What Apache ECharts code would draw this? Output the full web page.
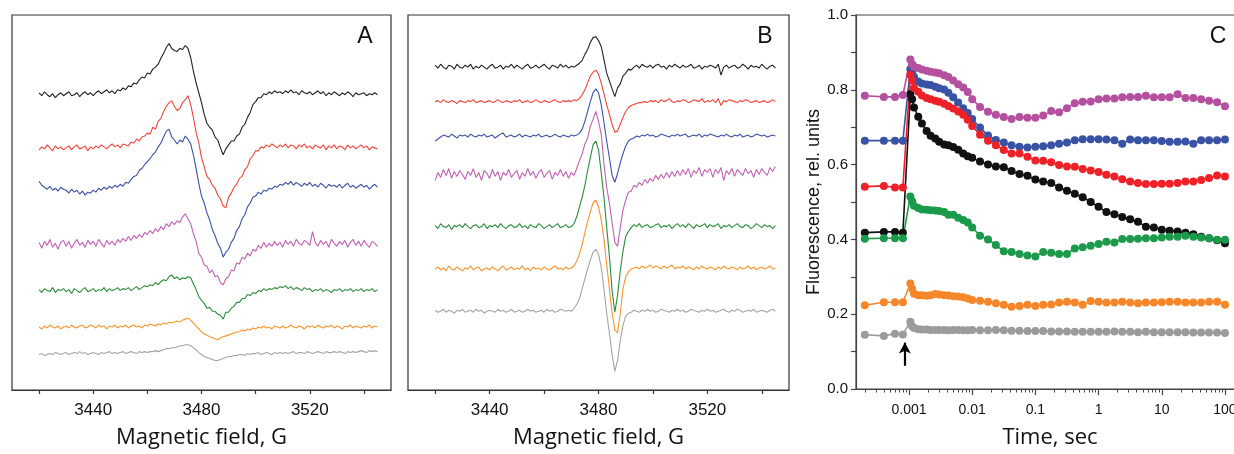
<!DOCTYPE html>
<html><head><meta charset="utf-8">
<script src="https://cdn.jsdelivr.net/npm/echarts@6/dist/echarts.min.js"></script>
<style>html,body{margin:0;padding:0;background:#fff;overflow:hidden;width:1234px;height:454px}#c{width:1234px;height:454px;overflow:hidden;position:relative}</style>
</head><body><div id="c"></div>
<script>
// ---------- Panels A and B: EPR spectra, 1 G steps from 3420 G ----------
const fieldStart = 3420; // G, first sample; 1 G per sample
const traceNames = ['black','red','blue','magenta','green','orange','gray'];
const abTicks = [3420,3440,3460,3480,3500,3520,3540];
const abLabels = [3440,3480,3520];
// vertical stacking baselines (a.u.)
const baseA = [300,246,206,148,101,64,37];
const baseB = [328,293,258,219,166,123,80];

const specA_black = [2,-1,3,0,-2,1,-3,0,2,-1, 1,3,-1,0,2,-2,1,3,0,2, -1,2,4,1,3,5,2,4,1,5, 4,7,5,9,8,12,11,15,18,17, 22,21,26,28,31,37,42,48,52,47, 45,44,47,46,50,47,38,24,12,2, -8,-20,-29,-33,-36,-43,-46,-54,-61,-55, -51,-47,-47,-42,-40,-33,-30,-23,-18,-10, -7,-3,-3,1,0,3,1,4,2,3, 1,4,2,5,2,3,0,4,2,1, 3,0,2,4,1,3,-1,2,0,3, 1,-1,2,0,3,1,-2,2,0,1, 2,-1,1,0,2,0];
const specA_red = [-2,1,-1,3,0,-3,2,-1,1,-2, 0,2,-2,1,3,-1,0,2,-3,1, -1,2,0,3,1,-1,2,4,1,3, 0,4,3,2,6,5,9,7,11,12, 15,14,21,19,27,30,37,42,46,48, 42,38,40,46,49,53,44,31,16,5, -10,-19,-29,-32,-38,-41,-48,-52,-59,-61, -50,-46,-40,-37,-31,-29,-22,-19,-11,-8, -3,-3,1,0,3,1,4,2,0,3, 1,4,0,3,2,-1,3,1,4,0, 2,-1,3,1,0,3,-2,2,0,3, -1,2,1,-2,3,0,2,-1,1,3, 0,2,-2,1,0,-1];
const specA_blue = [6,2,0,-2,1,-3,-1,-4,0,-2, -3,-6,-2,-5,-3,-7,-4,-8,-5,-6, -3,-5,-1,-3,0,-2,1,-1,2,0, 3,1,5,4,8,11,12,17,19,23, 26,29,33,36,41,45,51,57,59,51, 48,44,48,46,52,49,44,33,19,4, -9,-16,-26,-33,-43,-49,-57,-62,-71,-66, -63,-56,-52,-44,-40,-32,-28,-20,-16,-10, -9,-5,-7,-3,-4,-1,-2,1,0,3, 2,5,3,6,2,5,3,1,4,2, 5,1,3,0,4,2,-1,3,1,2, 0,3,-1,2,4,0,2,-1,1,3, 0,2,-2,1,3,0];
const specA_magenta = [2,-4,3,-1,5,-3,1,-5,2,4, -2,3,-4,1,5,-1,2,-3,4,0, 3,-2,5,1,-3,4,0,3,-1,5, 2,6,3,8,4,9,6,10,7,12, 10,14,11,16,13,18,15,21,18,23, 20,24,22,28,31,26,21,11,3,-9, -13,-21,-22,-29,-26,-33,-32,-39,-41,-35, -33,-26,-27,-19,-20,-13,-15,-9,-12,-5, -7,-1,-4,2,-3,1,-2,3,-1,2, -3,4,0,3,-2,5,1,-1,4,2, -1,13,2,-2,4,0,3,-3,5,1, -2,3,0,4,-3,2,5,-1,3,-2, 4,0,-3,3,1,-2];
const specA_green = [1,-2,2,0,-1,3,-2,1,0,2, -1,1,-3,2,0,-2,1,3,-1,0, 2,-1,1,0,3,-1,2,0,1,3, 0,2,1,3,0,2,4,1,3,5, 4,6,5,8,6,9,11,10,14,16, 12,14,11,13,12,14,13,7,1,-6, -10,-13,-18,-17,-21,-21,-24,-25,-29,-22, -22,-18,-16,-12,-12,-8,-8,-4,-5,-2, -3,0,-1,2,0,2,1,3,2,4, 3,5,2,4,1,3,2,0,3,1, 2,-1,1,0,2,-1,1,0,-2,1, 0,2,-1,1,0,2,-1,1,0,2, -1,1,0,2,-1,1];
const specA_orange = [0,-2,1,-1,2,0,-1,1,-2,0, 1,-1,2,0,-1,1,2,-1,0,2, 1,-1,2,0,1,-2,1,0,2,-1, 1,0,2,-1,1,2,0,1,-1,2, 1,3,2,1,3,2,4,3,5,4, 5,6,5,7,8,9,7,4,1,-2, -5,-7,-8,-10,-11,-12,-13,-11,-10,-9, -8,-7,-6,-5,-5,-3,-4,-2,-3,-1, -2,0,-1,1,-1,0,-2,1,0,-1, 1,-1,0,2,0,-1,1,0,-2,1, 0,1,-1,2,0,-1,1,0,2,-1, 1,0,-2,1,0,2,-1,1,0,-1, 1,0,2,-1,1,0];
const specA_gray = [-1,0,-2,-1,0,-1,1,0,-1,0, 1,-1,0,1,0,2,0,1,-1,0, 1,0,-1,1,0,1,2,0,1,0, 1,2,0,1,2,1,0,2,1,2, 1,2,2,3,2,3,4,5,5,6, 6,7,8,8,9,9,8,6,4,1, -1,-3,-4,-5,-6,-7,-7,-6,-5,-4, -3,-3,-2,-2,-1,-1,-2,0,-1,0, 0,1,-1,0,1,0,-1,1,0,1, 0,1,0,1,2,0,1,1,0,2, 1,0,1,2,1,0,2,1,1,2, 1,2,1,0,2,1,2,1,2,3, 2,1,3,2,3,2];

const specB_black = [2,-1,3,0,-2,2,1,-2,3,0, -1,2,0,3,-2,1,-1,2,0,-2, 1,3,-1,0,2,-2,1,0,3,-1, 2,0,-2,1,3,-1,0,2,-1,1, 3,0,-2,2,1,-1,3,0,2,-1, 1,0,2,4,7,13,18,25,30,31, 27,21,8,-6,-14,-22,-30,-21,-17,-9, -6,-2,-3,0,2,-1,3,1,0,2, -1,2,3,0,1,-2,2,0,3,1, -1,2,0,1,3,-1,0,2,-2,1, 0,2,1,-1,3,-8,0,2,-1,1, 2,-1,0,3,1,-2,2,0,1,-1, 3,0,-2,1,2,-1];
const specB_red = [0,1,-1,2,0,-1,1,0,-2,1, 0,-1,1,0,2,-1,0,1,-1,0, 1,-1,0,2,0,-1,1,0,-1,1, 0,2,-1,0,1,-1,0,2,0,-1, 1,0,-1,1,2,0,-1,1,0,1, 0,2,1,3,7,12,19,26,30,32, 28,19,8,-3,-13,-23,-31,-30,-23,-16, -10,-6,-4,-3,-2,-1,-1,0,-1,1, 0,1,-1,2,0,1,3,0,-1,1, 0,2,1,-1,0,2,1,0,3,-1, 1,0,2,-1,3,-4,1,0,2,1, 0,-1,1,0,2,1,-1,0,1,-1, 0,1,-1,0,2,0];
const specB_blue = [-5,-3,-1,1,0,-1,2,0,-2,1, 0,1,-1,2,0,-1,1,0,2,-1, 0,1,-2,0,2,3,-1,0,1,-1, 0,2,-1,1,0,-1,1,0,2,-1, 0,1,-1,0,2,0,-1,1,0,-1, 1,0,1,3,7,15,25,35,44,48, 44,32,14,-5,-22,-40,-47,-38,-27,-18, -10,-5,-3,-2,0,-1,1,0,2,0, 1,-1,0,2,1,0,-1,1,0,2, 0,1,2,-1,0,1,0,2,-1,1, 0,2,1,0,-1,1,0,2,0,-1, 1,0,2,-1,0,1,-1,0,2,1, 0,1,-1,0,1,0];
const specB_magenta = [-6,2,-3,5,-1,6,-4,3,-2,4, 0,-5,3,-1,6,-3,2,-6,4,1, -4,5,-2,3,-6,2,-1,5,-3,1, 4,-5,2,-2,6,-1,3,-4,2,5, -3,1,4,-5,2,-1,5,-2,3,-4, 2,-1,6,14,21,31,37,49,56,64, 54,41,11,-13,-29,-49,-69,-73,-54,-36, -26,-18,-17,-11,-13,-8,-11,-5,-9,-4, -7,-1,-5,0,-4,2,-3,3,-2,4, -1,5,0,6,-3,4,1,7,-2,5, 2,6,-3,5,1,7,-6,4,0,6, -2,5,2,-1,6,1,4,-3,5,0, 6,2,-1,7,3,8];
const specB_green = [1,-2,3,0,-1,2,-3,1,0,2, -1,3,0,-2,1,2,-1,0,3,-2, 1,0,2,-1,3,0,-2,1,2,-1, 0,3,-1,1,-2,2,0,-1,3,1, -2,0,2,-1,1,3,-1,0,2,-1, 0,3,10,20,30,42,57,70,83,87, 78,55,30,0,-30,-65,-87,-70,-45,-25, -10,-5,-1,2,0,3,-1,1,2,-1, 0,2,3,-1,1,0,2,-2,1,3, 0,2,-1,3,1,-2,2,0,1,3, -1,2,0,1,3,-2,1,0,2,-1, 1,3,0,-1,2,1,-2,0,3,1, -1,2,0,1,-2,1];
const specB_orange = [0,2,-1,1,-2,3,0,-1,2,0, -2,1,0,3,-1,1,2,-2,0,1, -1,2,0,-2,1,3,-1,0,2,-1, 1,0,3,-1,1,-2,2,0,1,-1, 2,0,-1,1,3,0,1,-1,2,0, 1,3,8,15,25,37,48,58,67,70, 63,50,30,5,-20,-45,-62,-65,-45,-20, -8,-3,0,1,2,0,3,1,2,4, 1,3,2,0,3,1,2,4,0,2, 1,3,0,2,1,-1,2,0,3,1, 0,2,1,-1,2,0,3,1,0,2, 1,-1,2,0,1,3,0,2,-1,1, 2,0,1,3,0,1];
const specB_gray = [1,-1,0,2,-1,1,0,-2,1,0, 2,-1,0,1,-1,2,0,1,-2,0, 1,0,-1,2,0,1,-1,0,2,-1, 0,1,-1,0,2,0,1,-1,0,1, -1,2,0,1,-1,0,2,1,0,1, 0,3,7,13,23,33,43,52,60,63, 58,45,23,-2,-22,-44,-61,-50,-30,-14, -5,-2,-1,1,0,-1,1,0,2,0, 1,-1,0,2,1,0,-1,1,0,2, 0,1,-1,0,2,1,0,-1,1,0, 2,0,1,-1,0,1,2,0,-1,1, 0,2,1,-1,0,1,0,2,-1,0, 1,0,-1,1,2,0];

// ---------- Panel C: fluorescence kinetics ----------
const timeSec = [0.0002,0.0004,0.0006,0.0008,
  0.00105,0.00112,0.0012,0.0014,0.0016,0.0019,0.0022,0.0026,0.003,0.0036,0.0042,0.005,0.006,0.0072,0.0085,0.01,
  0.0133,0.0178,0.0237,
  0.0316,0.042,0.056,0.075,0.1,0.133,0.178,0.237,0.316,0.42,0.56,0.75,1,1.33,1.78,2.37,3.16,4.2,5.6,7.5,10,13.3,17.8,23.7,31.6,42,56,75,100];
const fl_magenta = [0.784,0.781,0.781,0.786,
  0.881,0.868,0.862,0.858,0.854,0.851,0.848,0.846,0.844,0.839,0.834,0.825,0.815,0.806,0.794,0.775,
  0.754,0.741,0.733,
  0.727,0.722,0.727,0.725,0.725,0.731,0.743,0.740,0.751,0.764,0.768,0.769,0.775,0.777,0.777,0.780,0.781,0.781,0.784,0.780,0.780,0.780,0.788,0.778,0.778,0.775,0.771,0.767,0.756];
const fl_blue = [0.664,0.664,0.664,0.664,
  0.855,0.845,0.835,0.822,0.817,0.814,0.813,0.808,0.804,0.801,0.792,0.780,0.766,0.751,0.738,0.722,
  0.699,0.678,0.666,
  0.659,0.652,0.648,0.646,0.648,0.649,0.652,0.656,0.659,0.665,0.668,0.668,0.668,0.667,0.665,0.656,0.667,0.665,0.665,0.665,0.663,0.661,0.661,0.662,0.656,0.665,0.665,0.665,0.667];
const fl_red = [0.541,0.543,0.539,0.539,
  0.840,0.825,0.805,0.795,0.785,0.778,0.775,0.771,0.768,0.763,0.757,0.750,0.742,0.733,0.720,0.703,
  0.680,0.664,0.652,
  0.639,0.630,0.630,0.621,0.611,0.610,0.606,0.599,0.595,0.594,0.588,0.584,0.580,0.573,0.568,0.561,0.555,0.551,0.548,0.548,0.549,0.549,0.551,0.555,0.555,0.559,0.564,0.571,0.568];
const fl_black = [0.418,0.420,0.420,0.418,
  0.789,0.775,0.753,0.728,0.710,0.690,0.677,0.670,0.661,0.654,0.652,0.647,0.640,0.630,0.622,0.618,
  0.608,0.600,0.595,
  0.593,0.583,0.575,0.570,0.560,0.555,0.551,0.539,0.530,0.522,0.513,0.500,0.487,0.473,0.467,0.460,0.454,0.447,0.434,0.432,0.426,0.423,0.421,0.418,0.414,0.407,0.403,0.398,0.390];
const fl_green = [0.402,0.403,0.403,0.403,
  0.515,0.502,0.490,0.484,0.480,0.479,0.478,0.477,0.476,0.473,0.466,0.466,0.458,0.452,0.445,0.432,
  0.410,0.400,0.385,
  0.368,0.366,0.361,0.357,0.354,0.366,0.364,0.361,0.361,0.376,0.379,0.383,0.388,0.394,0.392,0.401,0.401,0.402,0.403,0.403,0.405,0.407,0.407,0.410,0.407,0.405,0.403,0.399,0.399];
const fl_orange = [0.224,0.232,0.232,0.232,
  0.282,0.268,0.255,0.251,0.251,0.249,0.251,0.254,0.253,0.251,0.250,0.248,0.247,0.245,0.242,0.238,
  0.236,0.233,0.229,
  0.225,0.220,0.222,0.225,0.222,0.225,0.226,0.231,0.233,0.231,0.225,0.235,0.233,0.231,0.231,0.233,0.231,0.229,0.231,0.231,0.232,0.233,0.233,0.231,0.231,0.231,0.233,0.233,0.225];
const fl_gray = [0.145,0.142,0.148,0.146,
  0.180,0.168,0.163,0.160,0.159,0.159,0.158,0.158,0.158,0.158,0.157,0.158,0.158,0.157,0.157,0.158,
  0.157,0.157,0.158,
  0.157,0.156,0.156,0.155,0.155,0.155,0.154,0.154,0.154,0.153,0.153,0.153,0.153,0.153,0.154,0.153,0.153,0.152,0.153,0.152,0.152,0.152,0.152,0.152,0.151,0.151,0.151,0.151,0.150];
const cMajor = [0.001,0.01,0.1,1,10,100];
const cYLabels = ['0.0','0.2','0.4','0.6','0.8','1.0'];
const flashTime = 0.00086; // arrow: light flash

// ---------- build ----------
const specA = [specA_black,specA_red,specA_blue,specA_magenta,specA_green,specA_orange,specA_gray];
const specB = [specB_black,specB_red,specB_blue,specB_magenta,specB_green,specB_orange,specB_gray];
const epColors = {black:'#222222',red:'#f0453c',blue:'#3f4fa6',magenta:'#c062b2',green:'#2b8c3c',orange:'#f7942e',gray:'#a4a4a4'};
const flColors = {black:'#111111',red:'#ee2128',blue:'#3953a4',magenta:'#b4509f',green:'#1c9a4b',orange:'#f5872a',gray:'#9b9b9b'};
const cMinor = [];
[0.0001,0.001,0.01,0.1,1,10,100].forEach(d=>{for(let k=2;k<=9;k++){cMinor.push(+(k*d).toPrecision(3));}});

const axisCol = '#333';
const tickFont = 'Liberation Sans';
function abX(gi){
  return {type:'value',gridIndex:gi,min:3410,max:3550,
    axisLine:{show:true,lineStyle:{color:axisCol,width:1.2}},
    axisTick:{show:true,inside:false,length:4,customValues:abTicks,lineStyle:{color:axisCol,width:1.2}},
    axisLabel:{customValues:abLabels,fontSize:17,color:'#111',margin:12,fontFamily:tickFont,formatter:v=>String(v)},
    splitLine:{show:false},
    name:'Magnetic field, G',nameLocation:'middle',nameGap:37,
    nameTextStyle:{fontSize:22,fontFamily:'Open Sans',color:'#111'}};
}
function abY(gi){return {type:'value',gridIndex:gi,min:0,max:381,show:false,splitLine:{show:false}};}

const series = [];
traceNames.forEach((n,k)=>{
  series.push({type:'line',xAxisIndex:0,yAxisIndex:0,showSymbol:false,silent:true,
    lineStyle:{width:1.1,color:epColors[n]},itemStyle:{color:epColors[n]},
    data:specA[k].map((v,i)=>[fieldStart+i, baseA[k]+v])});
});
traceNames.forEach((n,k)=>{
  series.push({type:'line',xAxisIndex:1,yAxisIndex:1,showSymbol:false,silent:true,
    lineStyle:{width:1.1,color:epColors[n]},itemStyle:{color:epColors[n]},
    data:specB[k].map((v,i)=>[fieldStart+i, baseB[k]+v])});
});
const flOrder = [['gray',fl_gray],['orange',fl_orange],['black',fl_black],['green',fl_green],['blue',fl_blue],['red',fl_red],['magenta',fl_magenta]];
flOrder.forEach(([n,arr],k)=>{
  const s = {type:'line',xAxisIndex:2,yAxisIndex:2,symbol:'circle',symbolSize:8,showSymbol:true,silent:true,
    lineStyle:{width:1.6,color:flColors[n]},itemStyle:{color:flColors[n]},
    data:timeSec.map((t,i)=>[t,arr[i]])};
  if(n==='gray'){
    s.markLine = {silent:true,symbol:['none','arrow'],symbolSize:[9,11],
      lineStyle:{color:'#000',width:2.2,type:'solid'},label:{show:false},
      data:[[{coord:[flashTime,0.062]},{coord:[flashTime,0.124]}]]};
  }
  series.push(s);
});

// canvas drawn wider than the visible 1234 px so that panel C's right edge falls outside the view
const chart = echarts.init(document.getElementById('c'),null,{renderer:'canvas',width:1270,height:454});
chart.setOption({
  animation:false,
  backgroundColor:'#ffffff',
  grid:[
    {left:12,top:15,width:379,height:381,show:true,borderColor:axisCol,borderWidth:1.2,backgroundColor:'transparent'},
    {left:408,top:15,width:381,height:381,show:true,borderColor:axisCol,borderWidth:1.2,backgroundColor:'transparent'},
    {left:856,top:15,width:388,height:378,show:true,borderColor:'#444',borderWidth:1.2,backgroundColor:'transparent'}
  ],
  xAxis:[abX(0),abX(1),
    {type:'log',gridIndex:2,min:0.000145,max:200,logBase:10,
      axisLine:{show:true,lineStyle:{color:'#444',width:1.2}},
      axisTick:{show:true,length:6,customValues:cMajor,lineStyle:{color:'#444',width:1.2}},
      axisLabel:{customValues:cMajor,fontSize:14,color:'#111',margin:14,fontFamily:tickFont,formatter:v=>String(v)},
      splitLine:{show:false},minorTick:{show:false},
      name:'Time, sec',nameLocation:'middle',nameGap:38,
      nameTextStyle:{fontSize:22,fontFamily:'Open Sans',color:'#111'}},
    {type:'log',gridIndex:2,min:0.000145,max:200,logBase:10,position:'bottom',
      axisLine:{show:false},
      axisTick:{show:true,length:3.5,customValues:cMinor,lineStyle:{color:'#444',width:1}},
      axisLabel:{show:false},splitLine:{show:false}}
  ],
  yAxis:[abY(0),abY(1),
    {type:'value',gridIndex:2,min:0,max:1,interval:0.1,
      axisLine:{show:true,lineStyle:{color:'#444',width:1.2}},
      axisTick:{show:true,length:5,lineStyle:{color:'#444',width:1.2}},
      axisLabel:{fontSize:15,color:'#111',margin:8,fontFamily:tickFont,
        formatter:v=>{const k=Math.round(v*10);return k%2===0?cYLabels[k/2]:'';}},
      splitLine:{show:false},
      name:'Fluorescence, rel. units',nameLocation:'middle',nameGap:33,
      nameTextStyle:{fontSize:18,fontFamily:tickFont,color:'#111'}}
  ],
  graphic:[
    {type:'text',x:365,y:37,style:{text:'A',font:'23px "Liberation Sans"',fill:'#111',align:'center',verticalAlign:'middle',textAlign:'center',textVerticalAlign:'middle'}},
    {type:'text',x:765,y:37,style:{text:'B',font:'23px "Liberation Sans"',fill:'#111',align:'center',verticalAlign:'middle',textAlign:'center',textVerticalAlign:'middle'}},
    {type:'text',x:1218,y:37,style:{text:'C',font:'23px "Liberation Sans"',fill:'#111',align:'center',verticalAlign:'middle',textAlign:'center',textVerticalAlign:'middle'}}
  ],
  series:series
});
</script></body></html>
